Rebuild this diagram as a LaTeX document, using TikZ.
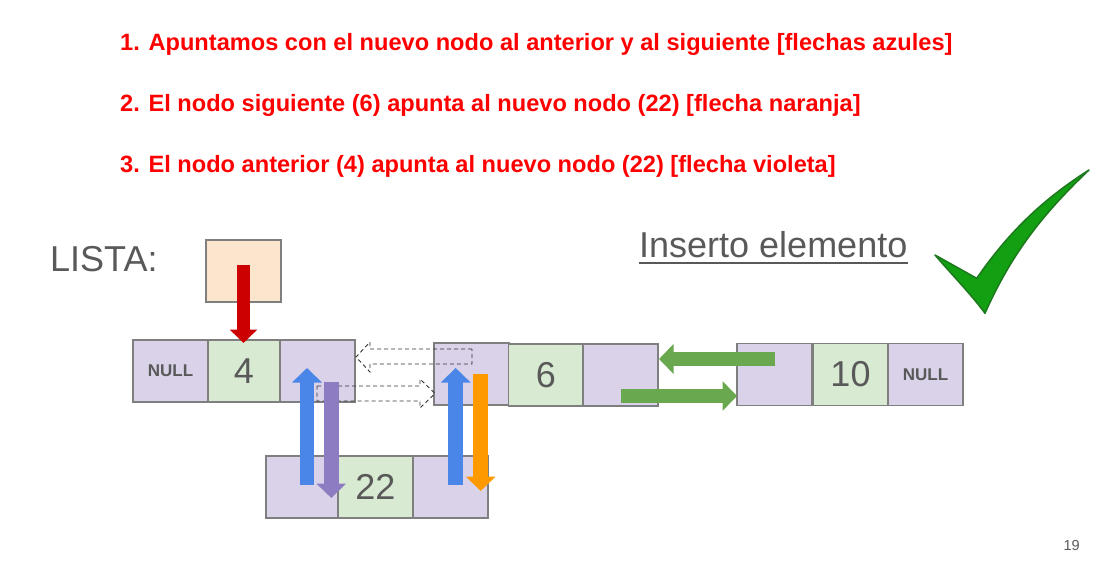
\documentclass[tikz,border=0pt]{standalone}
\usepackage{xcolor}
\usepackage{fontspec}
\setmainfont{Liberation Sans}
\definecolor{Col1}{RGB}{255,0,0}
\definecolor{Col2}{RGB}{89,89,89}
\definecolor{Col3}{RGB}{217,210,233}
\definecolor{Col4}{RGB}{217,234,211}
\definecolor{Col5}{RGB}{252,229,205}
\definecolor{Col6}{RGB}{127,127,127}
\definecolor{ColRed}{RGB}{204,0,0}
\definecolor{ColBlue}{RGB}{74,134,232}
\definecolor{ColViolet}{RGB}{142,124,195}
\definecolor{ColOrange}{RGB}{255,153,0}
\definecolor{ColGreen}{RGB}{106,168,79}
\definecolor{ColCheck}{RGB}{18,160,18}
\definecolor{ColCheckB}{RGB}{30,120,30}
\usetikzlibrary{arrows.meta}
\tikzstyle{Step}=[anchor=base west,inner sep=0pt,text=Col1,
font=\fontsize{23.6}{28}\selectfont\bfseries]
\tikzstyle{Title}=[anchor=base west,inner sep=0pt,text=Col2,
font=\fontsize{36}{42}\selectfont]
\tikzstyle{Cell}=[rectangle,draw=Col6,fill=Col3,line width=1.2pt,inner sep=0pt,
minimum width=75pt,minimum height=62pt,text=Col2,font=\fontsize{36}{42}\selectfont]
\tikzstyle{CellData}=[Cell,fill=Col4]
\tikzstyle{CellNull}=[Cell,font=\fontsize{17}{20}\selectfont\bfseries]
\tikzstyle{CellList}=[Cell,fill=Col5]
\tikzstyle{Block}=[line width=14.6pt,-{Triangle[length=14.5pt,width=29pt]}]
\tikzstyle{BlockGhost}=[draw=black!80,dashed,line width=.9pt,dash pattern=on 4pt off 3pt]
\begin{document}
\begin{tikzpicture}[x=1pt,y=-1pt]
    \useasboundingbox(0,0)rectangle(1100,572);
    \node[Step](s1)at(120,51){1. Apuntamos con el nuevo nodo al anterior y al siguiente [flechas azules]};
    \node[Step](s2)at(120,112){2. El nodo siguiente (6) apunta al nuevo nodo (22) [flecha naranja]};
    \node[Step](s3)at(120,173){3. El nodo anterior (4) apunta al nuevo nodo (22) [flecha violeta]};
    \node[Title](lista)at(50,271){LISTA:};
    \node[Title](ins)at(639,257){Inserto elemento};
    \draw[draw=Col2,line width=1.6pt]([yshift=-6pt]ins.base west)--([yshift=-6pt]ins.base east);
    \node[CellList,minimum width=75pt](head)at(243.5,271){};
    \node[CellNull](a0)at(170.5,371){NULL};
    \node[CellData,minimum width=72pt](a1)at(244,371){4};
    \node[Cell](a2)at(317.5,371){};
    \node[Cell](b0)at(471.5,374){};
    \node[CellData](b1)at(546,375){6};
    \node[Cell](b2)at(620.5,375){};
    \node[Cell](c0)at(774.5,374.5){};
    \node[CellData](c1)at(850.5,374.5){10};
    \node[CellNull](c2)at(925.5,374.5){NULL};
    \node[Cell,minimum width=72pt](d0)at(302,487){};
    \node[CellData](d1)at(375.5,487){22};
    \node[Cell](d2)at(450.5,487){};
    \draw[BlockGhost](472,349)--(370,349)--(370,342)--(356,357)--(370,372)--(370,364)--(472,364)--cycle;
    \draw[BlockGhost](317,386)--(420,386)--(420,379)--(435,393.5)--(420,408)--(420,401)--(317,401)--cycle;
    \coordinate(r0)at(243.5,265);
    \coordinate(r1)at(243.5,343);
    \coordinate(u0)at(307,485);
    \coordinate(u1)at(307,368);
    \coordinate(v0)at(331.3,382);
    \coordinate(v1)at(331.3,498);
    \coordinate(w0)at(455.7,485);
    \coordinate(w1)at(455.7,368);
    \coordinate(o0)at(480.7,374);
    \coordinate(o1)at(480.7,491);
    \coordinate(g0)at(775,359);
    \coordinate(g1)at(659,359);
    \coordinate(h0)at(621,396);
    \coordinate(h1)at(737,396);
    \draw[Block,ColRed,line width=13pt,-{Triangle[length=13.5pt,width=27pt]}](r0)--(r1);
    \draw[Block,ColBlue](u0)--(u1);
    \draw[Block,ColViolet](v0)--(v1);
    \draw[Block,ColBlue](w0)--(w1);
    \draw[Block,ColOrange](o0)--(o1);
    \draw[Block,ColGreen](g0)--(g1);
    \draw[Block,ColGreen](h0)--(h1);
    \draw[draw=ColCheckB,fill=ColCheck,line width=1.5pt,line join=round]
        (935,255)--(976.7,278.3)
        ..controls(1010,230)and(1045,198)..(1089,170)
        ..controls(1047,210)and(1013,250)..(985,313.3)
        ..controls(970,293)and(952,275)..cycle;
    \node[anchor=base east,inner sep=0pt,text=Col2,font=\fontsize{14.5}{17}\selectfont](page)at(1080,550){19};
\end{tikzpicture}
\end{document}
